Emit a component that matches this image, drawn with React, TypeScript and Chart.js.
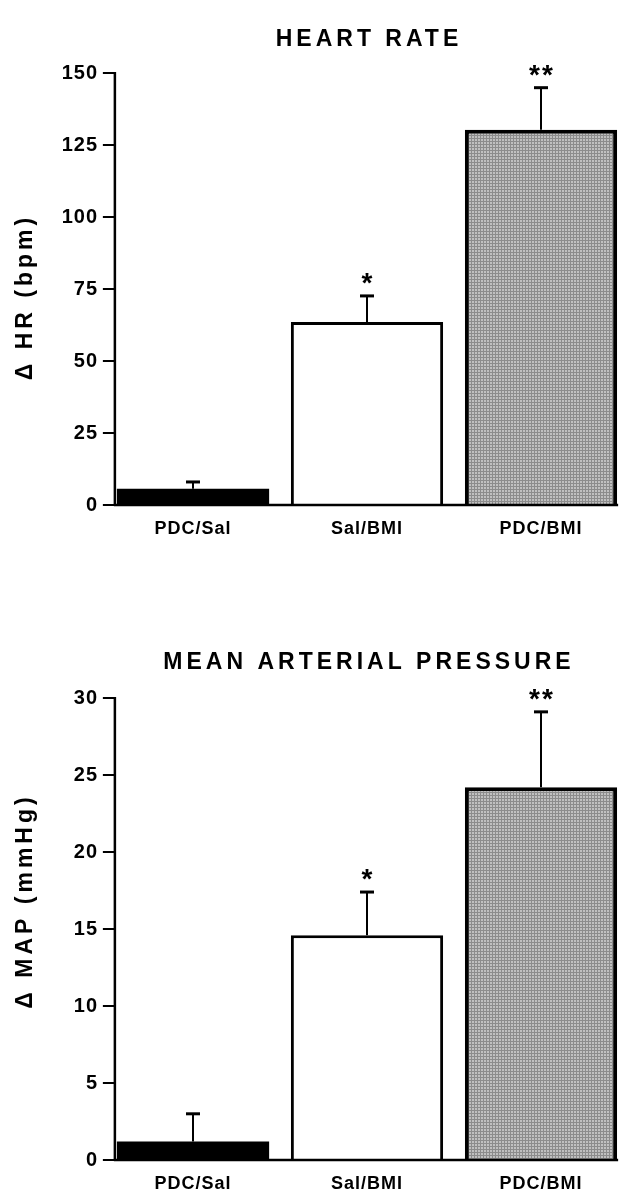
import React, { useEffect, useRef } from "react";
import { Chart, registerables } from "chart.js";

Chart.register(...registerables);

// ---------- data ----------
const categories = ["PDC/Sal", "Sal/BMI", "PDC/BMI"];

const hrTitle = "HEART RATE";
const hrAxisTitle = "\u0394 HR (bpm)";
const hrMeans = [5.6, 63.5, 130.3];
const hrErrors = [2.4, 9.1, 14.6];
const hrStars = ["", "*", "**"];
const hrMax = 150;
const hrStep = 25;

const mapTitle = "MEAN ARTERIAL PRESSURE";
const mapAxisTitle = "\u0394 MAP (mmHg)";
const mapMeans = [1.2, 14.6, 24.2];
const mapErrors = [1.8, 2.8, 4.9];
const mapStars = ["", "*", "**"];
const mapMax = 30;
const mapStep = 5;

const FONT = "'Liberation Sans', Arial, Helvetica, sans-serif";

function makePattern(): CanvasPattern | string {
  const c = document.createElement("canvas");
  c.width = 3;
  c.height = 3;
  const g = c.getContext("2d");
  if (!g) return "#a6a6a6";
  g.fillStyle = "#c0c0c0";
  g.fillRect(0, 0, 3, 3);
  g.fillStyle = "#8c8c8c";
  g.fillRect(0, 0, 1, 3);
  g.fillRect(0, 0, 3, 1);
  return g.createPattern(c, "repeat") || "#a6a6a6";
}

function setSpacing(ctx: any, px: number) {
  try {
    ctx.letterSpacing = px + "px";
  } catch (e) {
    /* ignore */
  }
}

const decorPlugin = {
  id: "decor",
  beforeDraw(chart: any) {
    setSpacing(chart.ctx, 1);
  },
  afterDatasetsDraw(chart: any, _args: any, opts: any) {
    const ctx = chart.ctx as CanvasRenderingContext2D;
    const meta = chart.getDatasetMeta(0);
    const bars = meta.data as any[];
    const yScale = chart.scales.y;
    const area = chart.chartArea;
    const first = bars[0];
    const last = bars[bars.length - 1];
    const axisX = first.x - first.width / 2 - 2;
    const rightX = last.x + last.width / 2 + 1;
    const y0 = yScale.getPixelForValue(0);
    const yTop = yScale.getPixelForValue(yScale.max);
    ctx.save();
    ctx.strokeStyle = "#000";
    ctx.lineCap = "butt";
    // y axis
    ctx.lineWidth = 2.5;
    ctx.beginPath();
    ctx.moveTo(axisX, yTop - 1);
    ctx.lineTo(axisX, y0);
    ctx.stroke();
    // ticks
    ctx.lineWidth = 2;
    ctx.beginPath();
    yScale.ticks.forEach((t: any) => {
      const py = yScale.getPixelForValue(t.value);
      ctx.moveTo(axisX - 12, py);
      ctx.lineTo(axisX + 1, py);
    });
    ctx.stroke();
    // x axis
    ctx.lineWidth = 2.5;
    ctx.beginPath();
    ctx.moveTo(axisX - 1, y0);
    ctx.lineTo(rightX, y0);
    ctx.stroke();
    // error bars + stars
    const ds = chart.data.datasets[0];
    const errors: number[] = opts.errors || [];
    const stars: string[] = opts.stars || [];
    bars.forEach((bar: any, i: number) => {
      const v = ds.data[i] as number;
      const e = errors[i] || 0;
      const yb = yScale.getPixelForValue(v);
      const ye = yScale.getPixelForValue(v + e);
      ctx.lineWidth = 2;
      ctx.beginPath();
      ctx.moveTo(bar.x, yb);
      ctx.lineTo(bar.x, ye);
      ctx.stroke();
      ctx.lineWidth = 3;
      ctx.beginPath();
      ctx.moveTo(bar.x - 7, ye);
      ctx.lineTo(bar.x + 7, ye);
      ctx.stroke();
      if (stars[i]) {
        ctx.fillStyle = "#000";
        ctx.font = `bold 28px ${FONT}`;
        setSpacing(ctx, 2);
        ctx.textAlign = "center";
        ctx.textBaseline = "alphabetic";
        ctx.fillText(stars[i], bar.x + 1, ye - 4);
      }
    });
    // chart title
    ctx.fillStyle = "#000";
    ctx.font = `bold 23px ${FONT}`;
    setSpacing(ctx, 4);
    ctx.textAlign = "center";
    ctx.textBaseline = "middle";
    ctx.fillText(opts.title, (area.left + area.right) / 2 + 2, opts.titleY);
    // y axis title
    ctx.save();
    ctx.translate(opts.axisTitleX, (area.top + area.bottom) / 2 + (opts.axisTitleShift || 0));
    ctx.rotate(-Math.PI / 2);
    ctx.font = `bold 23px ${FONT}`;
    setSpacing(ctx, 4);
    ctx.textAlign = "center";
    ctx.textBaseline = "middle";
    ctx.fillText(opts.axisTitle, 0, 0);
    ctx.restore();
    ctx.restore();
    setSpacing(ctx, 1);
  },
};

function buildConfig(
  title: string,
  axisTitle: string,
  means: number[],
  errors: number[],
  stars: string[],
  max: number,
  step: number,
  padTop: number,
  padBottom: number,
  titleY: number,
  axisTitleShift: number
): any {
  const pattern = makePattern();
  return {
    type: "bar",
    data: {
      labels: categories,
      datasets: [
        {
          data: means,
          backgroundColor: ["#000000", "#ffffff", pattern],
          borderColor: "#000000",
          borderWidth: [0, 3, 4],
          barPercentage: 1,
          categoryPercentage: 0.875,
        },
      ],
    },
    options: {
      responsive: false,
      animation: false,
      events: [],
      layout: { padding: { left: 0, right: 1, top: padTop, bottom: padBottom } },
      plugins: {
        legend: { display: false },
        tooltip: { enabled: false },
        title: { display: false },
        decor: { errors, stars, title, axisTitle, titleY, axisTitleX: 26, axisTitleShift },
      },
      scales: {
        x: {
          type: "category",
          offset: true,
          grid: { display: false, drawTicks: false },
          border: { display: false },
          ticks: {
            color: "#000",
            padding: 13,
            font: { family: FONT, size: 18, weight: "bold" },
          },
          afterFit(scale: any) {
            scale.height = 36;
          },
        },
        y: {
          type: "linear",
          min: 0,
          max: max,
          grid: { display: false, drawTicks: false },
          border: { display: false },
          ticks: {
            stepSize: step,
            color: "#000",
            padding: 8,
            font: { family: FONT, size: 20, weight: "bold" },
          },
          afterFit(scale: any) {
            scale.width = 106;
          },
        },
      },
    },
    plugins: [decorPlugin],
  };
}

function BarChart(props: { config: () => any; width: number; height: number }) {
  const ref = useRef<HTMLCanvasElement | null>(null);
  useEffect(() => {
    if (!ref.current) return;
    const chart = new Chart(ref.current, props.config());
    return () => chart.destroy();
  }, []);
  return (
    <canvas
      ref={ref}
      width={props.width}
      height={props.height}
      style={{ display: "block", width: props.width, height: props.height }}
    />
  );
}

export default function App() {
  return (
    <div style={{ position: "absolute", left: 0, top: 0, width: 629, height: 1199, background: "#fff" }}>
      <BarChart
        width={629}
        height={600}
        config={() => buildConfig(hrTitle, hrAxisTitle, hrMeans, hrErrors, hrStars, hrMax, hrStep, 73, 59, 40, 8)}
      />
      <BarChart
        width={629}
        height={599}
        config={() => buildConfig(mapTitle, mapAxisTitle, mapMeans, mapErrors, mapStars, mapMax, mapStep, 98, 3, 63, -28)}
      />
    </div>
  );
}
